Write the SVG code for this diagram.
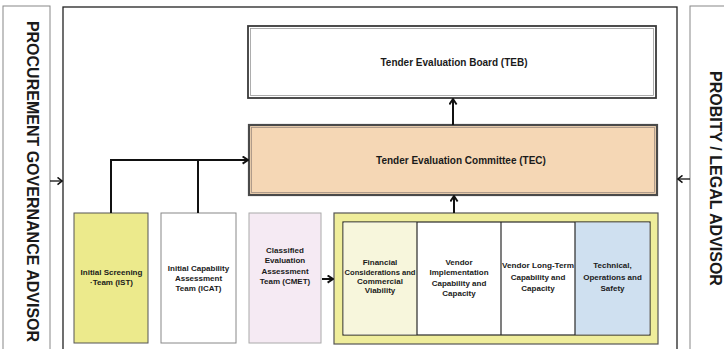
<svg xmlns="http://www.w3.org/2000/svg" width="724" height="349" viewBox="0 0 724 349">
  <defs>
    <marker id="chev" viewBox="0 0 10 10" refX="9" refY="5" markerWidth="9" markerHeight="9" orient="auto" markerUnits="userSpaceOnUse">
      <path d="M3,1 L9,5 L3,9" fill="none" stroke="#111" stroke-width="2.1"/>
    </marker>
    <marker id="chevS" viewBox="0 0 10 10" refX="9" refY="5" markerWidth="9" markerHeight="9" orient="auto" markerUnits="userSpaceOnUse">
      <path d="M4,1 L9,5 L4,9" fill="none" stroke="#111" stroke-width="1.7"/>
    </marker>
  </defs>
  <style>
    text { font-family: "Liberation Sans", Arial, sans-serif; font-weight: bold; fill: #1a1a1a; text-anchor: middle; }
    .side { font-size: 16px; }
    .head { font-size: 10px; }
    .small { font-size: 8px; }
    .frame { fill: #fff; stroke: #222; stroke-width: 1.3; }
    .adv { fill: #fff; stroke: #888; stroke-width: 1; }
    .conn { fill: none; stroke: #111; stroke-width: 2; }
    .thin { fill: none; stroke: #111; stroke-width: 1.3; }
  </style>

  <rect width="724" height="349" fill="#fff"/>

  <!-- side advisors -->
  <g id="procurement-advisor">
    <rect class="adv" x="3" y="6" width="47" height="350"/>
    <text class="side" transform="translate(32,181.5) rotate(90)" y="5.5">PROCUREMENT GOVERNANCE ADVISOR</text>
  </g>
  <g id="probity-advisor">
    <rect class="adv" x="690" y="6" width="40" height="350"/>
    <text class="side" transform="translate(715,178.5) rotate(90)" y="5.5">PROBITY / LEGAL ADVISOR</text>
  </g>

  <!-- main evaluation frame -->
  <rect class="frame" x="63" y="7" width="614" height="350"/>

  <!-- Tender Evaluation Board -->
  <g id="teb">
    <rect x="248" y="26" width="408" height="72" fill="#fff" stroke="#3a3a3a" stroke-width="1.8"/>
    <rect x="250.5" y="28.5" width="403" height="67" fill="none" stroke="#9a9a9a" stroke-width="0.8"/>
    <text class="head" x="454" y="65.5">Tender Evaluation Board (TEB)</text>
  </g>

  <!-- Tender Evaluation Committee -->
  <g id="tec">
    <rect x="249" y="125" width="408" height="70" fill="#f5d7b5" stroke="#4a4a4a" stroke-width="2.2"/>
    <rect x="251.5" y="127.5" width="403" height="65" fill="none" stroke="#a08e80" stroke-width="0.8"/>
    <text class="head" x="461" y="163.5">Tender Evaluation Committee (TEC)</text>
  </g>

  <!-- initial teams -->
  <g id="ist">
    <rect x="74" y="213" width="74" height="130" fill="#ecea8c" stroke="#555" stroke-width="1"/>
    <text class="small" x="111.5" y="275">Initial Screening</text>
    <text class="small" x="111.5" y="285">·Team (IST)</text>
  </g>
  <g id="icat">
    <rect x="161" y="213" width="75" height="130" fill="#fff" stroke="#888" stroke-width="1"/>
    <text class="small" x="198.5" y="271">Initial Capability</text>
    <text class="small" x="198.5" y="281">Assessment</text>
    <text class="small" x="198.5" y="291">Team (ICAT)</text>
  </g>
  <g id="cmet">
    <rect x="249" y="213" width="72" height="130" fill="#f5eaf3" stroke="#aaa" stroke-width="1"/>
    <text class="small" x="285" y="253">Classified</text>
    <text class="small" x="285" y="263">Evaluation</text>
    <text class="small" x="285" y="274">Assessment</text>
    <text class="small" x="285" y="284">Team (CMET)</text>
  </g>

  <!-- evaluation panels -->
  <g id="panels">
    <rect x="334" y="213" width="324" height="131" fill="#efed9b" stroke="#555" stroke-width="1.2"/>
    <rect x="343" y="222" width="307" height="113" fill="#fff" stroke="#2a2a2a" stroke-width="1.2"/>
    <rect x="343.6" y="222.6" width="73.4" height="111.8" fill="#f7f6dc"/>
    <rect x="575" y="222.6" width="74.4" height="111.8" fill="#cfe0f0"/>
    <path d="M417,222 V335 M501,222 V335 M575,222 V335" fill="none" stroke="#2a2a2a" stroke-width="1.2"/>
  </g>
  <g id="financial">
    <text class="small" x="380" y="265">Financial</text>
    <text class="small" x="380" y="275" textLength="71" lengthAdjust="spacingAndGlyphs">Considerations and</text>
    <text class="small" x="380" y="284">Commercial</text>
    <text class="small" x="380" y="293">Viability</text>
  </g>
  <g id="implementation">
    <text class="small" x="459" y="265">Vendor</text>
    <text class="small" x="459" y="275">Implementation</text>
    <text class="small" x="459" y="286">Capability and</text>
    <text class="small" x="459" y="296">Capacity</text>
  </g>
  <g id="long-term">
    <text class="small" x="538" y="268" textLength="72" lengthAdjust="spacingAndGlyphs">Vendor Long-Term</text>
    <text class="small" x="538" y="280">Capability and</text>
    <text class="small" x="538" y="291">Capacity</text>
  </g>
  <g id="technical">
    <text class="small" x="612.5" y="268">Technical,</text>
    <text class="small" x="612.5" y="280">Operations and</text>
    <text class="small" x="612.5" y="291">Safety</text>
  </g>

  <!-- connectors -->
  <g id="connectors">
    <path class="conn" d="M111,213 V160 H248" marker-end="url(#chev)"/>
    <path class="conn" d="M198,213 V160"/>
    <path class="conn" d="M453,125 V99" marker-end="url(#chev)"/>
    <path class="conn" d="M454,213 V196" marker-end="url(#chev)"/>
    <path class="conn" d="M322,279 H333" marker-end="url(#chev)"/>
    <path class="thin" d="M50,181 H62" marker-end="url(#chevS)"/>
    <path class="thin" d="M690,179 H678" marker-end="url(#chevS)"/>
  </g>
</svg>
